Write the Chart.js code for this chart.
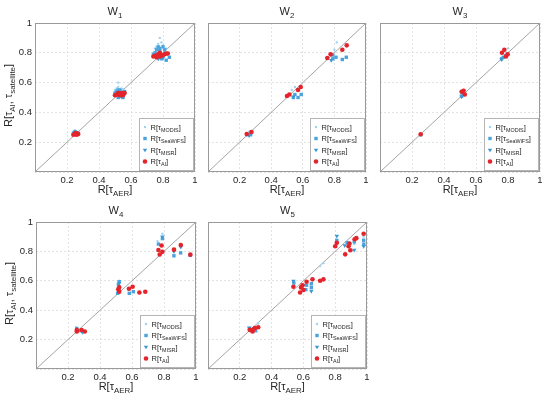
<!DOCTYPE html>
<html>
<head>
<meta charset="utf-8">
<script src="https://cdn.jsdelivr.net/npm/chart.js@4.4.0/dist/chart.umd.min.js"></script>
<style>
  body { margin: 0; background: #fff; }
  #wrap { position: relative; width: 550px; height: 400px; overflow: hidden; }
  canvas { position: absolute; }
</style>
</head>
<body>
<div id="wrap"></div>
<script>
// ticks shared by both axes of every panel
const tickValues = [0, 0.2, 0.4, 0.6, 0.8, 1];
const tickLabels = ['', '0.2', '0.4', '0.6', '0.8', '1'];
// 1:1 reference line
const diagX = [0, 1];
const diagY = [0, 1];

// W1  [R(tau_AER), R(tau)]
const w1Modis = [[0.25,0.28],[0.26,0.27],[0.24,0.27],[0.52,0.60],[0.52,0.57],[0.51,0.56],[0.54,0.56],[0.55,0.555],[0.50,0.55],
  [0.78,0.90],[0.77,0.86],[0.79,0.87],[0.76,0.84],[0.80,0.85],[0.75,0.83],[0.82,0.83]];
const w1Seawifs = [[0.24,0.26],[0.25,0.27],[0.26,0.265],[0.27,0.26],[0.50,0.53],[0.51,0.54],[0.52,0.55],[0.53,0.55],[0.53,0.54],
  [0.54,0.51],[0.55,0.50],[0.56,0.54],[0.52,0.50],[0.75,0.80],[0.76,0.82],[0.77,0.84],[0.78,0.81],[0.78,0.83],[0.80,0.84],
  [0.81,0.82],[0.79,0.76],[0.82,0.75],[0.84,0.77],[0.74,0.79]];
const w1Misr = [[0.26,0.255],[0.52,0.51],[0.54,0.505],[0.77,0.76],[0.80,0.765]];
const w1Ai = [[0.24,0.25],[0.25,0.255],[0.26,0.25],[0.27,0.255],[0.25,0.26],[0.26,0.26],
  [0.50,0.515],[0.51,0.52],[0.52,0.525],[0.53,0.515],[0.54,0.53],[0.55,0.525],[0.52,0.53],[0.55,0.515],[0.56,0.53],[0.53,0.525],
  [0.74,0.775],[0.75,0.78],[0.76,0.78],[0.77,0.79],[0.78,0.80],[0.79,0.78],[0.80,0.785],[0.81,0.79],[0.82,0.795],
  [0.76,0.77],[0.78,0.775],[0.83,0.795]];

// W2
const w2Modis = [[0.26,0.27],[0.53,0.55],[0.55,0.57],[0.80,0.82],[0.815,0.87]];
const w2Seawifs = [[0.25,0.25],[0.27,0.25],[0.54,0.50],[0.55,0.52],[0.57,0.50],[0.59,0.52],[0.79,0.76],[0.79,0.785],
  [0.81,0.77],[0.85,0.755],[0.875,0.77]];
const w2Misr = [[0.26,0.245],[0.54,0.505],[0.78,0.75]];
const w2Ai = [[0.245,0.255],[0.275,0.268],[0.50,0.51],[0.515,0.52],[0.57,0.55],[0.587,0.57],[0.755,0.765],[0.776,0.79],
  [0.85,0.82],[0.878,0.85]];

// W3
const w3Modis = [[0.53,0.55],[0.80,0.83],[0.79,0.80]];
const w3Seawifs = [[0.255,0.25],[0.51,0.51],[0.52,0.52],[0.76,0.76],[0.77,0.77],[0.785,0.78]];
const w3Misr = [[0.51,0.505],[0.76,0.755]];
const w3Ai = [[0.254,0.253],[0.51,0.539],[0.522,0.545],[0.53,0.52],[0.762,0.80],[0.777,0.82],[0.798,0.79],[0.787,0.775]];

// W4
const w4Modis = [[0.25,0.285],[0.52,0.60],[0.79,0.92],[0.76,0.87]];
const w4Seawifs = [[0.255,0.275],[0.28,0.26],[0.515,0.575],[0.52,0.594],[0.51,0.515],[0.583,0.515],[0.608,0.526],
  [0.765,0.85],[0.79,0.887],[0.862,0.77],[0.904,0.79],[0.962,0.775]];
const w4Misr = [[0.29,0.25],[0.52,0.585],[0.79,0.90],[0.862,0.80],[0.905,0.83]];
const w4Ai = [[0.255,0.255],[0.255,0.265],[0.285,0.265],[0.305,0.255],[0.514,0.542],[0.52,0.526],[0.52,0.555],
  [0.581,0.546],[0.604,0.56],[0.646,0.52],[0.683,0.526],[0.765,0.81],[0.785,0.84],[0.773,0.779],[0.79,0.797],
  [0.8625,0.812],[0.905,0.843],[0.965,0.778]];

// W5
const w5Modis = [[0.316,0.31],[0.705,0.70],[0.726,0.72],[0.979,0.90],[0.92,0.85],[0.65,0.58]];
const w5Seawifs = [[0.26,0.275],[0.30,0.26],[0.54,0.585],[0.615,0.54],[0.62,0.57],[0.65,0.555],[0.65,0.58],
  [0.81,0.875],[0.875,0.86],[0.92,0.865],[0.979,0.876],[0.98,0.85]];
const w5Misr = [[0.26,0.28],[0.537,0.598],[0.60,0.57],[0.65,0.53],[0.81,0.905],[0.86,0.84],[0.92,0.81],[0.979,0.835]];
const w5Ai = [[0.263,0.266],[0.28,0.255],[0.295,0.278],[0.316,0.284],[0.285,0.27],[0.537,0.56],[0.585,0.555],
  [0.579,0.52],[0.60,0.537],[0.62,0.594],[0.594,0.57],[0.657,0.61],[0.705,0.60],[0.726,0.61],[0.80,0.835],
  [0.81,0.858],[0.863,0.78],[0.884,0.835],[0.895,0.808],[0.922,0.883],[0.933,0.89],[0.979,0.92],[0.89,0.853]];

const FONT = '"Liberation Sans", Arial, Helvetica, sans-serif';
const TEXT = '#262626';
const GRID = '#e2e2e2';
const BOX = '#9a9a9a';
const RED = '#e3242b';
const C_MODIS = '#9fd3f2';
const C_SEAWIFS = '#4aa3dc';
const C_MISR = '#3a9ad6';

// margins around each plot area inside its canvas
const L = 34, T = 24, R = 8, B = 30;

const xTitle = [['R[τ', 0], ['AER', 1], [']', 0]];
const yTitle = [['R[τ', 0], ['AI', 1], [', τ', 0], ['satellite', 1], [']', 0]];
const legendItems = [
  { parts: [['R[τ', 0], ['MODIS', 1], [']', 0]], style: 'dot', color: C_MODIS },
  { parts: [['R[τ', 0], ['SeaWiFS', 1], [']', 0]], style: 'rect', color: C_SEAWIFS },
  { parts: [['R[τ', 0], ['MISR', 1], [']', 0]], style: 'tri', color: C_MISR },
  { parts: [['R[τ', 0], ['AI', 1], [']', 0]], style: 'circle', color: RED }
];

// text with subscripts, y = baseline of the main text
function drawRich(ctx, parts, x, y, size, align) {
  const sub = size * 0.72;
  let w = 0;
  parts.forEach(p => {
    ctx.font = (p[1] ? sub : size) + 'px ' + FONT;
    w += ctx.measureText(p[0]).width;
  });
  let cx = align === 'center' ? x - w / 2 : (align === 'right' ? x - w : x);
  ctx.textAlign = 'left';
  parts.forEach(p => {
    ctx.font = (p[1] ? sub : size) + 'px ' + FONT;
    ctx.fillText(p[0], cx, p[1] ? y + size * 0.3 : y);
    cx += ctx.measureText(p[0]).width;
  });
}

function marker(ctx, style, x, y) {
  ctx.beginPath();
  if (style === 'dot') ctx.arc(x, y, 1.2, 0, Math.PI * 2);
  else if (style === 'circle') ctx.arc(x, y, 2.3, 0, Math.PI * 2);
  else if (style === 'rect') ctx.rect(x - 1.7, y - 1.7, 3.4, 3.4);
  else { ctx.moveTo(x - 2.2, y - 1.3); ctx.lineTo(x + 2.2, y - 1.3); ctx.lineTo(x, y + 2.3); ctx.closePath(); }
  ctx.fill();
}

const decor = {
  id: 'decor',
  afterDraw(chart, args, o) {
    const { ctx, chartArea: a } = chart;
    ctx.save();
    ctx.strokeStyle = BOX;
    ctx.lineWidth = 1;
    ctx.strokeRect(Math.round(a.left) + 0.5, Math.round(a.top) + 0.5,
      Math.round(a.right - a.left) - 1, Math.round(a.bottom - a.top) - 1);

    ctx.fillStyle = TEXT;
    ctx.textBaseline = 'alphabetic';
    const cx = (a.left + a.right) / 2;
    drawRich(ctx, [['W', 0], [o.num, 1]], cx, a.top - 8, 11, 'center');
    drawRich(ctx, xTitle, cx, a.bottom + 21, 11, 'center');
    if (o.yTitle) {
      ctx.save();
      ctx.translate(a.left - 23, (a.top + a.bottom) / 2 - 2);
      ctx.rotate(-Math.PI / 2);
      drawRich(ctx, yTitle, 0, 0, 11, 'center');
      ctx.restore();
    }

    // legend box, bottom right inside the axes
    const lw = 54, lh = 52;
    const lx = Math.round(a.right - lw - 2) + 0.5, ly = Math.round(a.bottom - lh - 2) + 0.5;
    ctx.fillStyle = '#fff';
    ctx.fillRect(lx, ly, lw, lh);
    ctx.strokeStyle = '#b5b5b5';
    ctx.strokeRect(lx, ly, lw, lh);
    legendItems.forEach((it, i) => {
      const yy = ly + 8.5 + i * 11.5;
      ctx.fillStyle = it.color;
      marker(ctx, it.style, lx + 5.5, yy);
      ctx.fillStyle = TEXT;
      drawRich(ctx, it.parts, lx + 11, yy + 2.5, 7.5, 'left');
    });
    ctx.restore();
  }
};

const toPts = arr => arr.map(p => ({ x: p[0], y: p[1] }));

function axis(showLabels, isX) {
  return {
    type: 'linear', min: 0, max: 1,
    afterBuildTicks: s => { s.ticks = tickValues.map(v => ({ value: v })); },
    afterFit: s => { if (isX) s.height = B; else s.width = L; },
    ticks: {
      display: showLabels,
      callback: v => tickLabels[tickValues.indexOf(v)],
      font: { size: 9.5, family: FONT }, color: TEXT,
      padding: 3, maxRotation: 0, autoSkip: false
    },
    grid: { color: GRID, lineWidth: 1, drawTicks: false },
    border: { display: false, dash: [2, 2] }
  };
}

const panels = [
  { num: '1', x: 35,  y: 23,  w: 160, h: 149, yl: true,  modis: w1Modis, seawifs: w1Seawifs, misr: w1Misr, ai: w1Ai },
  { num: '2', x: 208, y: 23,  w: 158, h: 149, yl: false, modis: w2Modis, seawifs: w2Seawifs, misr: w2Misr, ai: w2Ai },
  { num: '3', x: 380, y: 23,  w: 160, h: 149, yl: false, modis: w3Modis, seawifs: w3Seawifs, misr: w3Misr, ai: w3Ai },
  { num: '4', x: 36,  y: 222, w: 160, h: 147, yl: true,  modis: w4Modis, seawifs: w4Seawifs, misr: w4Misr, ai: w4Ai },
  { num: '5', x: 208, y: 222, w: 159, h: 147, yl: false, modis: w5Modis, seawifs: w5Seawifs, misr: w5Misr, ai: w5Ai }
];

const wrap = document.getElementById('wrap');
panels.forEach(p => {
  const c = document.createElement('canvas');
  const W = p.w + L + R, H = p.h + T + B;
  c.width = W; c.height = H;
  c.style.left = (p.x - L) + 'px';
  c.style.top = (p.y - T) + 'px';
  c.style.width = W + 'px';
  c.style.height = H + 'px';
  wrap.appendChild(c);

  new Chart(c, {
    type: 'scatter',
    data: {
      datasets: [
        { label: 'R[τAI]', data: toPts(p.ai), pointStyle: 'circle', pointRadius: 2.3,
          backgroundColor: RED, pointBorderWidth: 0, order: 1 },
        { label: 'R[τMISR]', data: toPts(p.misr), pointStyle: 'triangle', pointRotation: 180, pointRadius: 2.6,
          backgroundColor: C_MISR, pointBorderWidth: 0, order: 2 },
        { label: 'R[τSeaWiFS]', data: toPts(p.seawifs), pointStyle: 'rect', pointRadius: 2.4,
          backgroundColor: C_SEAWIFS, pointBorderWidth: 0, order: 3 },
        { label: 'R[τMODIS]', data: toPts(p.modis), pointStyle: 'circle', pointRadius: 1.2,
          backgroundColor: C_MODIS, pointBorderWidth: 0, order: 4 },
        { type: 'line', label: '1:1', data: diagX.map((v, i) => ({ x: v, y: diagY[i] })),
          borderColor: '#8c8c8c', borderWidth: 0.8, pointRadius: 0, fill: false, order: 5 }
      ]
    },
    options: {
      responsive: false,
      animation: false,
      events: [],
      layout: { padding: { left: 0, top: T, right: R, bottom: 0 } },
      plugins: {
        legend: { display: false },
        tooltip: { enabled: false },
        decor: { num: p.num, yTitle: p.yl }
      },
      scales: {
        x: axis(true, true),
        y: axis(p.yl, false)
      }
    },
    plugins: [decor]
  });
});
</script>
</body>
</html>
